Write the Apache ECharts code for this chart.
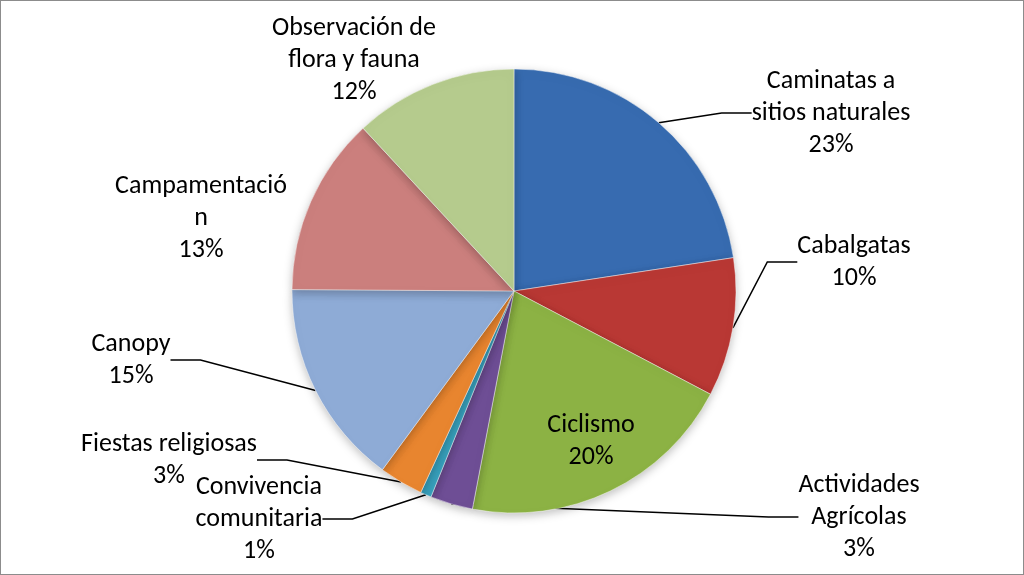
<!DOCTYPE html>
<html>
<head>
<meta charset="utf-8">
<script src="https://cdn.jsdelivr.net/npm/echarts@6/dist/echarts.min.js"></script>
<style>
  html, body { margin: 0; padding: 0; background: #fff; }
  #main { width: 1022px; height: 573px; border: 1px solid #8c8c8c; }
</style>
</head>
<body>
<div id="main"></div>
<script>
// actividades (nombres tal como aparecen en el gráfico)
var categories = [
  "Caminatas a\nsitios naturales",
  "Cabalgatas",
  "Ciclismo",
  "Actividades\nAgrícolas",
  "Convivencia\ncomunitaria",
  "Fiestas religiosas",
  "Canopy",
  "Campamentació\nn",
  "Observación de\nflora y fauna"
];
// porcentajes
var values = [22.6, 10.1, 20.3, 3.1, 0.8, 3.2, 15.0, 13.0, 11.9];
var colors = ["#376bb0", "#b93834", "#8cb244", "#6e4e95", "#38a1bd", "#e8852f", "#8eabd6", "#cb7f7d", "#b5cb8d"];

// donde va cada etiqueta (centro del bloque de texto)
var labelPos = [
  [830, 112], [853, 261], [590, 440], [858, 516], [258, 518],
  [168, 459], [130, 359], [200, 217], [353, 59]
];
var noLine = [2, 7, 8];

var myChart = echarts.init(document.getElementById("main"));

var data = categories.map(function (name, i) {
  var item = { name: name, value: values[i], itemStyle: { color: colors[i] } };
  if (noLine.indexOf(i) >= 0) item.labelLine = { show: false };
  return item;
});

myChart.setOption({
  animation: false,
  series: [
    {
      type: "pie",
      center: [513, 290],
      radius: 222,
      startAngle: 90,
      clockwise: true,
      percentPrecision: 0,
      itemStyle: {
        borderColor: "rgba(255,255,255,0.45)",
        borderWidth: 1,
        shadowBlur: 10,
        shadowColor: "rgba(0,0,0,0.25)",
        shadowOffsetY: 3
      },
      label: {
        show: true,
        position: "outside",
        formatter: "{b}\n{d}%",
        fontFamily: "Carlito, 'Open Sans', 'Liberation Sans', sans-serif",
        fontSize: 26,
        lineHeight: 32,
        color: "#000",
        align: "center"
      },
      labelLine: {
        show: true,
        lineStyle: { color: "#000", width: 1.5 }
      },
      labelLayout: function (params) {
        var p = labelPos[params.dataIndex];
        return { x: p[0], y: p[1], align: "center", verticalAlign: "middle", hideOverlap: false, moveOverlap: null };
      },
      data: data
    }
  ]
});
</script>
</body>
</html>
